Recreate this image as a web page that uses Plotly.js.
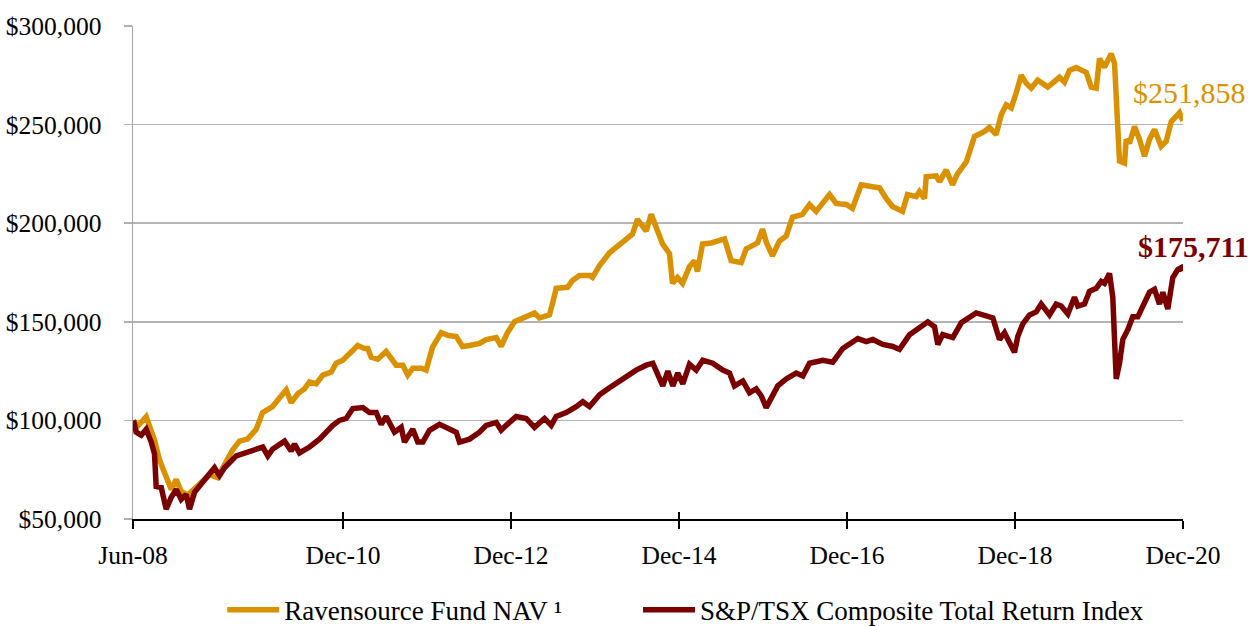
<!DOCTYPE html>
<html>
<head>
<meta charset="utf-8">
<script src="https://cdn.plot.ly/plotly-3.0.1.min.js"></script>
<style>
  html, body { margin: 0; padding: 0; background: #ffffff; }
  #chart { width: 1254px; height: 626px; }
</style>
</head>
<body>
<div id="chart"></div>
<script>
// ---- Data (decimal years, values in $) ----
const navName = 'Ravensource Fund NAV \u00B9';
const tsxName = 'S&P/TSX Composite Total Return Index';

const navYears = [
  2008.506, 2008.554, 2008.657, 2008.708, 2008.756, 2008.815, 2008.875, 2008.955, 2009.014, 2009.074,
  2009.149, 2009.252, 2009.411, 2009.506, 2009.589, 2009.685, 2009.768, 2009.863, 2009.967, 2010.042,
  2010.161, 2010.264, 2010.324, 2010.383, 2010.462, 2010.542, 2010.601, 2010.681, 2010.760, 2010.860,
  2010.919, 2010.998, 2011.098, 2011.176, 2011.256, 2011.295, 2011.336, 2011.414, 2011.514, 2011.574,
  2011.633, 2011.712, 2011.771, 2011.831, 2011.931, 2011.990, 2012.030, 2012.065, 2012.169, 2012.256,
  2012.348, 2012.423, 2012.506, 2012.625, 2012.705, 2012.824, 2012.883, 2012.958, 2013.042, 2013.181,
  2013.280, 2013.339, 2013.458, 2013.498, 2013.538, 2013.673, 2013.732, 2013.815, 2013.935, 2013.970,
  2014.054, 2014.173, 2014.292, 2014.371, 2014.446, 2014.506, 2014.610, 2014.669, 2014.729, 2014.804,
  2014.887, 2014.923, 2014.982, 2015.042, 2015.125, 2015.185, 2015.220, 2015.280, 2015.383, 2015.542,
  2015.621, 2015.740, 2015.800, 2015.935, 2015.994, 2016.042, 2016.113, 2016.196, 2016.276, 2016.351,
  2016.470, 2016.554, 2016.633, 2016.693, 2016.792, 2016.871, 2016.990, 2017.065, 2017.169, 2017.304,
  2017.387, 2017.467, 2017.542, 2017.661, 2017.720, 2017.824, 2017.863, 2017.923, 2017.943, 2018.062,
  2018.101, 2018.181, 2018.256, 2018.315, 2018.419, 2018.458, 2018.518, 2018.637, 2018.696, 2018.776,
  2018.836, 2018.895, 2018.955, 2019.014, 2019.074, 2019.133, 2019.193, 2019.271, 2019.390, 2019.530,
  2019.589, 2019.649, 2019.729, 2019.848, 2019.907, 2019.967, 2020.006, 2020.065, 2020.145, 2020.185,
  2020.205, 2020.224, 2020.244, 2020.304, 2020.324, 2020.363, 2020.423, 2020.482, 2020.542, 2020.601,
  2020.661, 2020.740, 2020.800, 2020.860, 2020.958, 2020.998
];
const navValues = [
  100000, 97000, 101800, 96000, 90000, 80000, 74000, 65000, 70000, 64000,
  62000, 66500, 72500, 71000, 77000, 85000, 89500, 90500, 95500, 104000,
  107000, 113000, 115500, 109000, 113500, 116000, 119500, 118500, 123000, 124500,
  129000, 130500, 135000, 138000, 136500, 136500, 132000, 131000, 135000, 132000,
  128000, 128000, 123000, 126500, 126500, 125500, 132000, 137000, 144500, 143000,
  142500, 137500, 138000, 139000, 141000, 142000, 137500, 144500, 150000, 152500,
  154500, 152000, 153500, 160000, 167000, 167500, 171000, 173500, 173500, 172500,
  178500, 185000, 189500, 192500, 194500, 202000, 196000, 204500, 197000, 189500,
  184500, 169500, 172500, 169500, 178000, 181000, 175500, 189500, 190000, 192000,
  181000, 180000, 187000, 190000, 197000, 190000, 183500, 191000, 193500, 203000,
  204500, 209500, 206000, 209500, 214500, 210000, 209500, 207500, 219500, 218500,
  218000, 212500, 208500, 206000, 214500, 213500, 216000, 212500, 223500, 224000,
  221000, 227000, 219500, 225000, 231000, 236000, 244000, 246500, 248500, 245000,
  255000, 260000, 258500, 266000, 275000, 271000, 268500, 272500, 269000, 274000,
  271500, 277500, 279000, 276500, 269000, 268500, 283500, 279000, 286000, 281000,
  261000, 247500, 231500, 230500, 242500, 240500, 249000, 242500, 234000, 242500,
  247500, 239000, 241500, 251500, 256000, 251858
];

const tsxYears = [
  2008.506, 2008.538, 2008.598, 2008.657, 2008.717, 2008.756, 2008.776, 2008.836, 2008.895, 2008.955,
  2009.014, 2009.074, 2009.133, 2009.173, 2009.232, 2009.331, 2009.411, 2009.470, 2009.530, 2009.589,
  2009.729, 2009.848, 2010.045, 2010.105, 2010.164, 2010.304, 2010.383, 2010.423, 2010.482, 2010.601,
  2010.720, 2010.879, 2010.958, 2011.038, 2011.117, 2011.236, 2011.315, 2011.395, 2011.455, 2011.514,
  2011.613, 2011.693, 2011.732, 2011.831, 2011.890, 2011.950, 2012.030, 2012.149, 2012.268, 2012.348,
  2012.387, 2012.506, 2012.625, 2012.705, 2012.824, 2012.883, 2012.943, 2013.062, 2013.181, 2013.280,
  2013.399, 2013.479, 2013.538, 2013.657, 2013.776, 2013.855, 2013.935, 2014.054, 2014.173, 2014.292,
  2014.371, 2014.490, 2014.610, 2014.688, 2014.807, 2014.867, 2014.926, 2014.986, 2015.045, 2015.125,
  2015.205, 2015.283, 2015.402, 2015.521, 2015.601, 2015.661, 2015.760, 2015.839, 2015.919, 2015.979,
  2016.038, 2016.098, 2016.176, 2016.276, 2016.395, 2016.474, 2016.554, 2016.712, 2016.831, 2016.950,
  2017.069, 2017.129, 2017.229, 2017.307, 2017.426, 2017.545, 2017.625, 2017.744, 2017.863, 2017.962,
  2018.042, 2018.081, 2018.140, 2018.260, 2018.360, 2018.458, 2018.538, 2018.657, 2018.736, 2018.815,
  2018.875, 2018.934, 2018.994, 2019.033, 2019.093, 2019.173, 2019.252, 2019.312, 2019.411, 2019.490,
  2019.550, 2019.629, 2019.708, 2019.748, 2019.827, 2019.887, 2019.967, 2020.026, 2020.065, 2020.125,
  2020.164, 2020.185, 2020.205, 2020.244, 2020.283, 2020.343, 2020.402, 2020.462, 2020.521, 2020.601,
  2020.661, 2020.720, 2020.760, 2020.819, 2020.879, 2020.938, 2020.979, 2020.998
];
const tsxValues = [
  100000, 94000, 92500, 95500, 89000, 83000, 66500, 66000, 55000, 61000,
  65000, 60000, 62500, 55000, 63500, 68500, 73500, 76000, 72000, 76000,
  82000, 83500, 86500, 82000, 85500, 89500, 84500, 88000, 83500, 86500,
  90500, 97500, 100000, 101000, 106000, 106500, 104000, 104000, 98000, 102000,
  94000, 96500, 89000, 95500, 89000, 89000, 95000, 98000, 95500, 94000,
  89000, 90500, 94000, 97500, 99000, 95000, 97500, 102000, 101000, 96500,
  101000, 97500, 102000, 104000, 107000, 109500, 107000, 113000, 116500, 120000,
  121500, 125500, 128000, 129000, 117500, 125000, 117500, 124000, 118500, 128500,
  125500, 130500, 129000, 125500, 124000, 117500, 120000, 114000, 116000, 112500,
  106500, 111000, 117500, 121000, 124000, 122500, 129000, 130500, 129500, 136500,
  140000, 141500, 140000, 141000, 138500, 137500, 136000, 143500, 147000, 150000,
  147500, 138500, 143500, 142000, 149500, 152000, 154500, 153000, 152000, 141000,
  144500, 139500, 134500, 142500, 149000, 153500, 155000, 159000, 153500, 159000,
  158000, 154000, 162500, 158000, 159000, 165500, 167000, 170500, 169500, 174500,
  162500, 141000, 121000, 129000, 141000, 146000, 152500, 152500, 157500, 165000,
  166500, 159000, 165000, 156500, 172500, 176500, 177500, 175711
];

const tickYears = [2008.5, 2011, 2013, 2015, 2017, 2019, 2021];
const tickLabels = ['Jun-08', 'Dec-10', 'Dec-12', 'Dec-14', 'Dec-16', 'Dec-18', 'Dec-20'];
const yTicks = [50000, 100000, 150000, 200000, 250000, 300000];

const navColor = '#DA9100';
const tsxColor = '#7A0000';
const fontFam = '"Liberation Serif", "Times New Roman", serif';

const fmt = v => '$' + v.toLocaleString('en-US');

const traces = [
  {
    x: navYears, y: navValues, type: 'scatter', mode: 'lines', name: navName,
    line: { color: navColor, width: 5.5, shape: 'linear' }, xaxis: 'x', yaxis: 'y',
    legend: 'legend'
  },
  {
    x: tsxYears, y: tsxValues, type: 'scatter', mode: 'lines', name: tsxName,
    line: { color: tsxColor, width: 5.5, shape: 'linear' }, xaxis: 'x2', yaxis: 'y',
    legend: 'legend2'
  }
];

const navLast = navValues.length - 1;
const tsxLast = tsxValues.length - 1;

const legendCommon = {
  orientation: 'h', xanchor: 'left', y: -0.185, yanchor: 'middle',
  font: { family: fontFam, size: 27, color: '#000000' },
  itemwidth: 52, bgcolor: 'rgba(0,0,0,0)', borderwidth: 0
};

const layout = {
  width: 1254, height: 626,
  margin: { l: 133, r: 71, t: 26, b: 107, pad: 0, autoexpand: false },
  paper_bgcolor: '#ffffff', plot_bgcolor: '#ffffff',
  font: { family: fontFam, size: 25.5, color: '#000000' },
  showlegend: true,
  legend: Object.assign({}, legendCommon, { x: 0.085 }),
  legend2: Object.assign({}, legendCommon, { x: 0.481 }),
  xaxis: {
    type: 'linear', range: [2008.5, 2021.0],
    tickmode: 'array', tickvals: tickYears, ticktext: tickLabels,
    ticks: 'outside', ticklen: 8, tickwidth: 1.5, tickcolor: '#000000',
    ticklabelstandoff: 4,
    showline: true, linecolor: '#000000', linewidth: 2,
    showgrid: false, zeroline: false,
    tickfont: { family: fontFam, size: 25.5, color: '#000000' }
  },
  xaxis2: {
    type: 'linear', range: [2008.5, 2021.0], overlaying: 'x', matches: 'x', anchor: 'y', side: 'bottom',
    tickmode: 'array', tickvals: tickYears,
    ticks: 'inside', ticklen: 7, tickwidth: 1.5, tickcolor: '#000000',
    showticklabels: false, showline: false, showgrid: false, zeroline: false
  },
  yaxis: {
    range: [50000, 300000], tickmode: 'array', tickvals: yTicks, ticktext: yTicks.map(fmt),
    ticks: 'outside', ticklen: 8, tickwidth: 1.5, tickcolor: '#b0b0b0',
    ticklabelstandoff: 17,
    showline: true, linecolor: '#a6a6a6', linewidth: 1.5,
    showgrid: true, gridcolor: '#b4b4b4', gridwidth: 1.5, zeroline: false,
    tickfont: { family: fontFam, size: 25.5, color: '#000000' }
  },
  annotations: [
    {
      x: navYears[navLast], y: navValues[navLast], xref: 'x', yref: 'y',
      text: fmt(navValues[navLast]), showarrow: false,
      xanchor: 'center', yanchor: 'middle', xshift: 7, yshift: 28,
      font: { family: fontFam, size: 30, color: navColor, weight: 'normal' }
    },
    {
      x: tsxYears[tsxLast], y: tsxValues[tsxLast], xref: 'x', yref: 'y',
      text: fmt(tsxValues[tsxLast]), showarrow: false,
      xanchor: 'center', yanchor: 'middle', xshift: 11, yshift: 25,
      font: { family: fontFam, size: 30, color: tsxColor, weight: 'bold' }
    }
  ]
};

Plotly.newPlot('chart', traces, layout, { displayModeBar: false, staticPlot: true });
</script>
</body>
</html>
